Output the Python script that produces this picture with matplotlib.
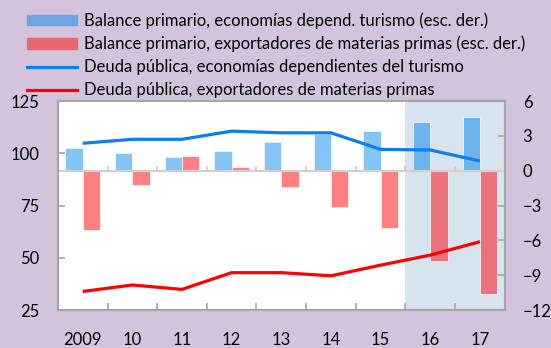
import numpy as np
import matplotlib.pyplot as plt
from matplotlib.patches import Patch
from matplotlib.lines import Line2D

plt.rcParams['font.family'] = ['Lato', 'DejaVu Sans']

# --- Data ---
years = ['2009', '10', '11', '12', '13', '14', '15', '16', '17']
# primary balance, % (right scale)
bal_tourism = [2.0, 1.5, 1.15, 1.7, 2.5, 3.2, 3.4, 4.2, 4.6]
bal_commod = [-5.1, -1.2, 1.3, 0.3, -1.4, -3.1, -4.9, -7.8, -10.6]
# public debt, % (left scale)
debt_tourism = [104.8, 106.7, 106.7, 110.6, 109.8, 109.8, 101.9, 101.6, 96.3]
debt_commod = [33.9, 37.0, 34.9, 42.9, 42.9, 41.4, 46.5, 51.3, 57.7]
proj_start = 7  # first projected year (2016)

legend_labels = [
    'Balance primario, economías depend. turismo (esc. der.)',
    'Balance primario, exportadores de materias primas (esc. der.)',
    'Deuda pública, economías dependientes del turismo',
    'Deuda pública, exportadores de materias primas',
]

# --- Styling ---
BG = '#D4C3DD'
SHADE = '#D7E4EF'
SPINE = '#A6A6A6'
BLUE_BAR, BLUE_BAR_P = '#85C4F7', '#6CB4EE'
RED_BAR, RED_BAR_P = '#FF8080', '#E9737A'
BLUE_LINE, RED_LINE = '#0A80EE', '#FF0000'
FS = 12

fig = plt.figure(figsize=(5.51, 3.48), dpi=100, facecolor=BG)
ax = fig.add_axes([0.105, 0.109, 0.811, 0.6006])
ax2 = ax.twinx()

x = np.arange(len(years))
w = 0.35
blue_cols = [BLUE_BAR_P if i >= proj_start else BLUE_BAR for i in x]
red_cols = [RED_BAR_P if i >= proj_start else RED_BAR for i in x]

# bars on the right-hand scale
ax.axvspan(proj_start - 0.5, len(years) - 0.5, color=SHADE, zorder=0, lw=0)
ax.bar(x - w / 2, bal_tourism, w, color=blue_cols, edgecolor='#EEF4FA', lw=0.6, zorder=2)
ax.bar(x + w / 2, bal_commod, w, color=red_cols, edgecolor='#FBEFEF', lw=0.6, zorder=2)
ax.axhline(0, color='#D0D0D0', lw=1.6, zorder=3)
bounds = np.arange(0.5, len(years) - 0.5)
ax.vlines(bounds, 0, 0.45, color='#C8C8C8', lw=1.2, zorder=3)

ax.set_xlim(-0.5, len(years) - 0.5)
ax.set_ylim(-12, 6)
ax.set_yticks(np.arange(-12, 7, 3))
ax.yaxis.tick_right()
ax.yaxis.set_label_position('right')

# debt lines on the left-hand scale
ax2.plot(x, debt_tourism, color=BLUE_LINE, lw=2.3, solid_capstyle='butt')
ax2.plot(x, debt_commod, color=RED_LINE, lw=2.3, solid_capstyle='butt')
ax2.set_ylim(25, 125)
ax2.set_yticks([25, 50, 75, 100, 125])
ax2.yaxis.tick_left()

ax.set_xticks(x)
ax.set_xticklabels(years)
ax.set_xticks(bounds, minor=True)
ax.tick_params(axis='x', which='major', length=0, pad=16, labelsize=FS)
ax.tick_params(axis='x', which='minor', direction='in', length=5, color=SPINE, width=1.2)
for a in (ax, ax2):
    a.tick_params(axis='y', direction='in', length=5, color=SPINE, width=1.2,
                  labelsize=FS, pad=13)
    for s in a.spines.values():
        s.set_color(SPINE)
        s.set_linewidth(1.5)
ax2.patch.set_visible(False)
ax.set_facecolor('white')

handles = [
    Patch(color='#6CA4E4'),
    Patch(color='#E8676F'),
    Line2D([], [], color=BLUE_LINE, lw=2.3),
    Line2D([], [], color=RED_LINE, lw=2.3),
]
fig.legend(handles, legend_labels, loc='upper left', bbox_to_anchor=(0.049, 0.965),
           frameon=False, fontsize=FS, borderpad=0, borderaxespad=0,
           handlelength=3.0, handleheight=0.6, handletextpad=0.4, labelspacing=0.42)

fig.savefig('out.png', dpi=100, facecolor=BG)
